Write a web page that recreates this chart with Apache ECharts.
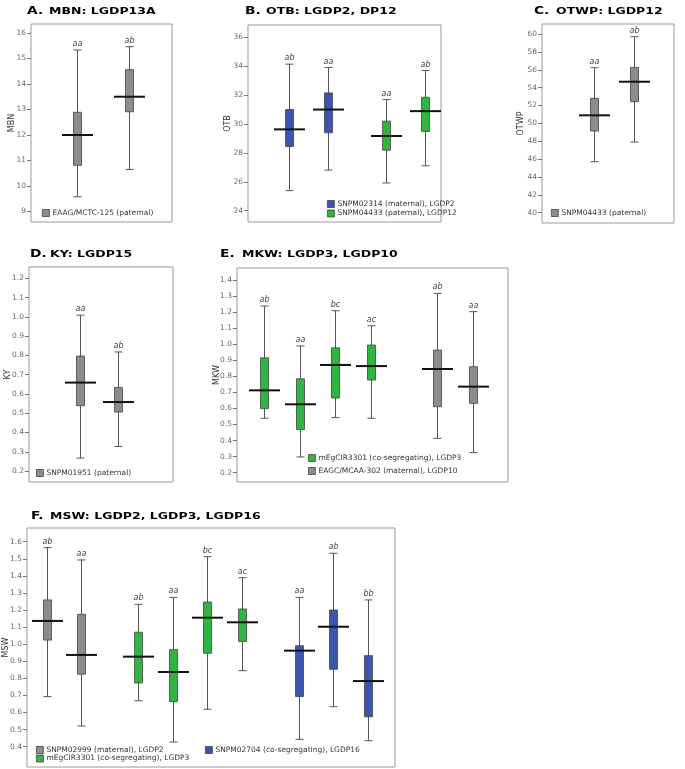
<!DOCTYPE html>
<html><head><meta charset="utf-8">
<script src="https://cdn.jsdelivr.net/npm/echarts@6/dist/echarts.min.js"></script>
<style>html,body{margin:0;padding:0;background:#fff}#c{width:685px;height:769px}</style>
</head><body><div id="c"></div>
<script>
// ---------- DATA: [min, q1, median, q3, max] per box ----------
const A_names = ['EAAG/MCTC-125 (paternal)'];
const A_paternal = [[9.58,10.81,12.00,12.89,15.33],[10.65,12.91,13.50,14.56,15.46]];
const A_letters = ['aa','ab'];
const A_ticks = [9,10,11,12,13,14,15,16];

const B_names = ['SNPM02314 (maternal), LGDP2','SNPM04433 (paternal), LGDP12'];
const B_maternal = [[25.39,28.44,29.63,31.00,34.14],[26.81,29.40,31.00,32.15,33.91]];
const B_maternal_letters = ['ab','aa'];
const B_paternal = [[25.92,28.19,29.17,30.20,31.69],[27.11,29.49,30.89,31.85,33.70]];
const B_paternal_letters = ['aa','ab'];
const B_ticks = [24,26,28,30,32,34,36];

const C_names = ['SNPM04433 (paternal)'];
const C_paternal = [[45.71,49.14,50.90,52.80,56.23],[47.91,52.42,54.66,56.27,59.70]];
const C_letters = ['aa','ab'];
const C_ticks = [40,42,44,46,48,50,52,54,56,58,60];

const D_names = ['SNPM01951 (paternal)'];
const D_paternal = [[0.267,0.539,0.659,0.797,1.009],[0.327,0.506,0.558,0.634,0.818]];
const D_letters = ['aa','ab'];
const D_ticks = [0.2,0.3,0.4,0.5,0.6,0.7,0.8,0.9,1.0,1.1,1.2];

const E_names = ['mEgCIR3301 (co-segregating), LGDP3','EAGC/MCAA-302 (maternal), LGDP10'];
const E_coseg = [[0.539,0.599,0.713,0.916,1.238],[0.298,0.468,0.626,0.785,0.989],[0.543,0.665,0.871,0.978,1.209],[0.539,0.777,0.864,0.995,1.115]];
const E_coseg_letters = ['ab','aa','bc','ac'];
const E_maternal = [[0.414,0.611,0.846,0.964,1.317],[0.325,0.632,0.736,0.860,1.203]];
const E_maternal_letters = ['ab','aa'];
const E_ticks = [0.2,0.3,0.4,0.5,0.6,0.7,0.8,0.9,1.0,1.1,1.2,1.3,1.4];

const F_names = ['SNPM02999 (maternal), LGDP2','mEgCIR3301 (co-segregating), LGDP3','SNPM02704 (co-segregating), LGDP16'];
const F_maternal = [[0.693,1.024,1.136,1.259,1.565],[0.521,0.824,0.937,1.175,1.493]];
const F_maternal_letters = ['ab','aa'];
const F_coseg3 = [[0.669,0.773,0.927,1.070,1.233],[0.427,0.663,0.837,0.968,1.274],[0.619,0.947,1.155,1.247,1.512],[0.845,1.015,1.128,1.206,1.389]];
const F_coseg3_letters = ['ab','aa','bc','ac'];
const F_coseg16 = [[0.443,0.693,0.962,0.991,1.274],[0.634,0.853,1.102,1.200,1.532],[0.435,0.575,0.784,0.933,1.259]];
const F_coseg16_letters = ['aa','ab','bb'];
const F_ticks = [0.4,0.5,0.6,0.7,0.8,0.9,1.0,1.1,1.2,1.3,1.4,1.5,1.6];

const titleLetters = ['A.','B.','C.','D.','E.','F.'];
const titleTexts = ['MBN: LGDP13A','OTB: LGDP2, DP12','OTWP: LGDP12','KY: LGDP15','MKW: LGDP3, LGDP10','MSW: LGDP2, LGDP3, LGDP16'];
const yNames = ['MBN','OTB','OTWP','KY','MKW','MSW'];

// ---------- STYLE / LAYOUT ----------
const GRAY = '#8c8c8c', BLUE = '#3a56b0', GREEN = '#2fb642';
const FONT = 'DejaVu Sans';

const panels = [
  {grid:{left:31,top:24,width:141,height:198}, x:[-0.885,1.83], y:[8.59,16.35], ticks:A_ticks, dec:0, nameGap:15,
   gap:1, groups:[{name:A_names[0],color:GRAY,boxes:A_paternal,letters:A_letters}],
   legends:[{left:42,top:209,names:[A_names[0]]}], title:{lx:27,tx:49,cy:11}},
  {grid:{left:248,top:25,width:193,height:197}, x:[-1.065,3.92], y:[23.22,36.85], ticks:B_ticks, dec:0, nameGap:16.5,
   gap:1.5, groups:[{name:B_names[0],color:BLUE,boxes:B_maternal,letters:B_maternal_letters},
                    {name:B_names[1],color:GREEN,boxes:B_paternal,letters:B_paternal_letters}],
   legends:[{left:327,top:200,names:[B_names[0]]},{left:327,top:209.5,names:[B_names[1]]}], title:{lx:245,tx:266,cy:11}},
  {grid:{left:542,top:24,width:132,height:199}, x:[-1.3,2.0], y:[38.85,61.12], ticks:C_ticks, dec:0, nameGap:17.5,
   gap:1, groups:[{name:C_names[0],color:GRAY,boxes:C_paternal,letters:C_letters}],
   legends:[{left:551,top:209,names:[C_names[0]]}], title:{lx:534,tx:556,cy:11}},
  {grid:{left:29,top:267,width:144,height:215}, x:[-1.33,2.43], y:[0.143,1.259], ticks:D_ticks, dec:1, nameGap:17.5,
   gap:1, groups:[{name:D_names[0],color:GRAY,boxes:D_paternal,letters:D_letters}],
   legends:[{left:36,top:469,names:[D_names[0]]}], title:{lx:30,tx:50,cy:254}},
  {grid:{left:237,top:268,width:271,height:214}, x:[-0.76,6.84], y:[0.142,1.475], ticks:E_ticks, dec:1, nameGap:16.5,
   gap:1.85, groups:[{name:E_names[0],color:GREEN,boxes:E_coseg,letters:E_coseg_letters},
                     {name:E_names[1],color:GRAY,boxes:E_maternal,letters:E_maternal_letters}],
   legends:[{left:308,top:454,names:[E_names[0]]},{left:308,top:467,names:[E_names[1]]}], title:{lx:220,tx:242,cy:254}},
  {grid:{left:27,top:528,width:368,height:239}, x:[-0.57,10.09], y:[0.281,1.68], ticks:F_ticks, dec:1, nameGap:17.5,
   gap:1.65, groups:[{name:F_names[0],color:GRAY,boxes:F_maternal,letters:F_maternal_letters},
                     {name:F_names[1],color:GREEN,boxes:F_coseg3,letters:F_coseg3_letters},
                     {name:F_names[2],color:BLUE,boxes:F_coseg16,letters:F_coseg16_letters}],
   legends:[{left:36,top:746,names:[F_names[0]]},{left:36,top:754.5,names:[F_names[1]]},{left:205,top:746,names:[F_names[2]]}],
   title:{lx:31,tx:50,cy:516}}
];

function makeRender(color, letters){
  return function(params, api){
    const x = api.value(0);
    const pMin = api.coord([x, api.value(1)]);
    const pQ1 = api.coord([x, api.value(2)]);
    const pMed = api.coord([x, api.value(3)]);
    const pQ3 = api.coord([x, api.value(4)]);
    const pMax = api.coord([x, api.value(5)]);
    const cx = Math.round(pMin[0]) + 0.5;
    const hw = 4, mw = 15.5, wc = '#555';
    return {type:'group', children:[
      {type:'line', shape:{x1:cx,y1:pMax[1],x2:cx,y2:pMin[1]}, style:{stroke:wc,lineWidth:1}},
      {type:'line', shape:{x1:cx-hw,y1:pMax[1],x2:cx+hw,y2:pMax[1]}, style:{stroke:wc,lineWidth:1}},
      {type:'line', shape:{x1:cx-hw,y1:pMin[1],x2:cx+hw,y2:pMin[1]}, style:{stroke:wc,lineWidth:1}},
      {type:'rect', shape:{x:cx-hw,y:pQ3[1],width:2*hw,height:pQ1[1]-pQ3[1]}, style:{fill:color,stroke:'#444',lineWidth:0.8}},
      {type:'line', shape:{x1:cx-mw,y1:pMed[1],x2:cx+mw,y2:pMed[1]}, style:{stroke:'#111',lineWidth:2}},
      {type:'text', style:{x:cx,y:pMax[1]-2,text:letters[params.dataIndex],fontSize:8,fontStyle:'italic',
        fontFamily:FONT,fill:'#3c3c50',align:'center',verticalAlign:'bottom'}}
    ]};
  };
}

const option = {backgroundColor:'#fff', animation:false, grid:[], xAxis:[], yAxis:[], series:[], legend:[], graphic:[]};
panels.forEach((p,k)=>{
  option.grid.push(Object.assign({show:true,borderColor:'#999',borderWidth:1,backgroundColor:'rgba(0,0,0,0)',
    containLabel:false, outerBoundsMode:'none'}, p.grid));
  option.xAxis.push({gridIndex:k,type:'value',min:p.x[0],max:p.x[1],show:false});
  option.yAxis.push({gridIndex:k,type:'value',min:p.y[0],max:p.y[1],position:'left',
    axisLine:{show:false,onZero:false}, splitLine:{show:false},
    axisTick:{show:true,length:4,customValues:p.ticks,lineStyle:{color:'#777'}},
    axisLabel:{customValues:p.ticks,margin:5,fontSize:7.5,color:'#6a6a6a',fontFamily:FONT,
      formatter:(v)=>Number(v).toFixed(p.dec)},
    name:yNames[k], nameLocation:'middle', nameGap:p.nameGap, nameMoveOverlap:false,
    nameTextStyle:{fontSize:8,color:'#333',fontFamily:FONT}});
  let start = 0;
  p.groups.forEach(g=>{
    const data = g.boxes.map((b,i)=>[start+i].concat(b));
    start += g.boxes.length - 1 + p.gap;
    option.series.push({type:'custom', name:g.name, xAxisIndex:k, yAxisIndex:k, clip:false,
      itemStyle:{color:g.color}, encode:{x:0,y:[1,2,3,4,5]}, data, renderItem:makeRender(g.color,g.letters)});
  });
  p.legends.forEach(l=>{
    option.legend.push({left:l.left,top:l.top,orient:'vertical',padding:0,itemWidth:7,itemHeight:7,itemGap:2,
      selectedMode:false, icon:'rect', data:l.names,
      itemStyle:{borderColor:'#444',borderWidth:0.8},
      textStyle:{fontSize:7.5,color:'#333',fontFamily:FONT,padding:[0,0,0,-2]}});
  });
  option.graphic.push({type:'text', x:p.title.lx, y:p.title.cy, scaleX:1.25,
    style:{text:titleLetters[k], font:'bold 11px "DejaVu Sans"', fill:'#000', verticalAlign:'middle', align:'left'}});
  option.graphic.push({type:'text', x:p.title.tx, y:p.title.cy+0.5, scaleX:1.39,
    style:{text:titleTexts[k], font:'bold 9px "DejaVu Sans"', fill:'#000', verticalAlign:'middle', align:'left'}});
});

const chart = echarts.init(document.getElementById('c'), null, {renderer:'canvas'});
chart.setOption(option);
</script></body></html>
